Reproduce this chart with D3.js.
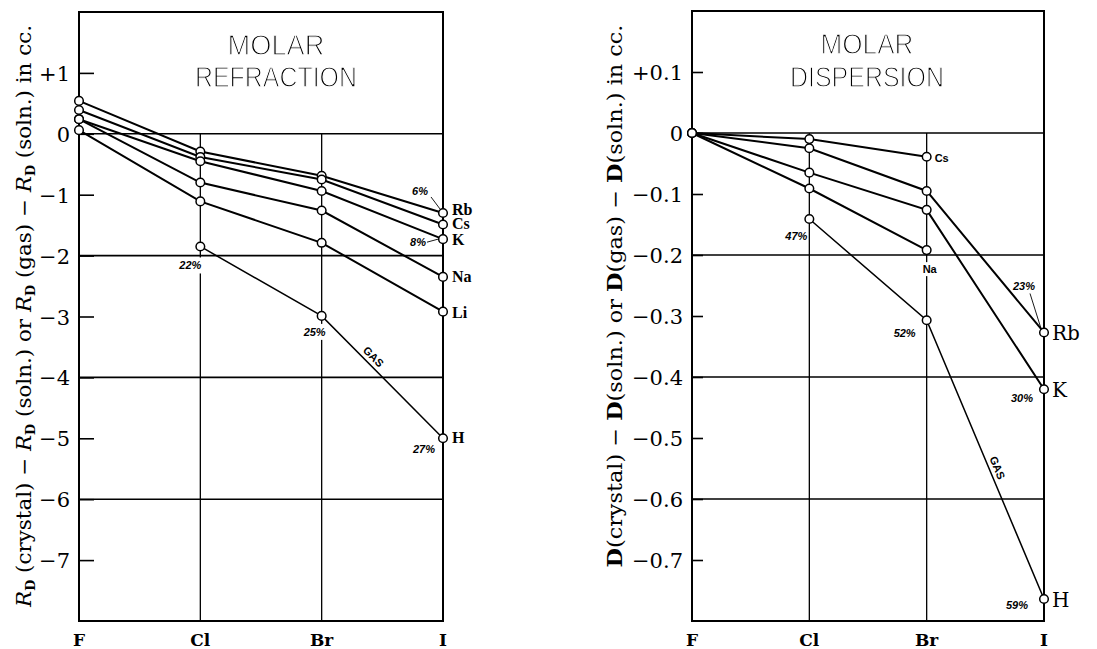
<!DOCTYPE html>
<html>
<head>
<meta charset="utf-8">
<script src="https://cdn.jsdelivr.net/npm/d3@7"></script>
<style>
  html, body { margin: 0; padding: 0; background: #fff; }
  svg { display: block; }
</style>
</head>
<body>
<svg id="chart" width="1097" height="649"></svg>
<script>
// ---------- DATA ----------
const categories = ["F", "Cl", "Br", "I"];

// Molar refraction (cc)
const refrSeriesNames = ["Rb", "Cs", "K", "Na", "Li", "H"];
const refrRb = [0.54, -0.29, -0.69, -1.30];
const refrCs = [0.39, -0.38, -0.75, -1.49];
const refrK  = [0.24, -0.45, -0.94, -1.73];
const refrNa = [0.24, -0.80, -1.26, -2.35];
const refrLi = [0.06, -1.11, -1.79, -2.92];
const refrH  = [null, -1.85, -2.99, -5.00];   // gas
const refrTicks = [1, 0, -1, -2, -3, -4, -5, -6, -7];
const refrTickLabels = ["+1", "0", "\u22121", "\u22122", "\u22123", "\u22124", "\u22125", "\u22126", "\u22127"];
const refrGrid = [0, -2, -4, -6];
const refrPctH = [null, "22%", "25%", "27%"];
const refrPctRb = [null, null, null, "6%"];
const refrPctK = [null, null, null, "8%"];

// Molar dispersion (cc)
const dispSeriesNames = ["Cs", "Rb", "K", "Na", "H"];
const dispCs = [0, -0.010, -0.039, null];
const dispRb = [0, -0.025, -0.095, -0.327];
const dispK  = [0, -0.065, -0.126, -0.420];
const dispNa = [0, -0.091, -0.192, null];
const dispH  = [null, -0.141, -0.307, -0.764]; // gas
const dispTicks = [0.1, 0, -0.1, -0.2, -0.3, -0.4, -0.5, -0.6, -0.7];
const dispTickLabels = ["+0.1", "0", "\u22120.1", "\u22120.2", "\u22120.3", "\u22120.4", "\u22120.5", "\u22120.6", "\u22120.7"];
const dispGrid = [0, -0.2, -0.4, -0.6];
const dispPctH = [null, "47%", "52%", "59%"];
const dispPctRb = [null, null, null, "23%"];
const dispPctK = [null, null, null, "30%"];

// ---------- DRAWING ----------
const svg = d3.select("#chart");
const SERIF = "'DejaVu Serif', 'Liberation Serif', serif";
const SERIF2 = "'Liberation Serif', 'DejaVu Serif', serif";
const NARROW = "'Liberation Sans Narrow', 'Liberation Sans', sans-serif";

// grayscale filter for the thin titles
const defs = svg.append("defs");
defs.append("filter").attr("id", "gray")
  .append("feColorMatrix").attr("type", "saturate").attr("values", 0);

function drawPanel(cfg) {
  const g = svg.append("g");
  const x = d3.scalePoint().domain(categories).range([cfg.x0, cfg.x1]);
  const y = d3.scaleLinear().domain(cfg.domain).range([cfg.y0, cfg.y1]);

  g.selectAll("line.hgrid").data(cfg.grid).join("line")
    .attr("x1", cfg.x0).attr("x2", cfg.x1)
    .attr("y1", d => y(d)).attr("y2", d => y(d))
    .attr("stroke", "#000").attr("stroke-width", 1.6);

  g.selectAll("line.vgrid").data(categories.slice(1, -1)).join("line")
    .attr("x1", d => x(d)).attr("x2", d => x(d))
    .attr("y1", y(0)).attr("y2", cfg.y1)
    .attr("stroke", "#000").attr("stroke-width", 1.3);

  g.append("rect")
    .attr("x", cfg.x0).attr("y", cfg.y0)
    .attr("width", cfg.x1 - cfg.x0).attr("height", cfg.y1 - cfg.y0)
    .attr("fill", "none").attr("stroke", "#000").attr("stroke-width", 2);

  const axis = d3.axisLeft(y).tickValues(cfg.ticks).tickSize(-cfg.tickLen)
    .tickFormat((d, i) => cfg.tickLabels[i]);
  const ag = g.append("g").attr("transform", `translate(${cfg.x0},0)`).call(axis);
  ag.select(".domain").remove();
  ag.selectAll(".tick line").attr("stroke", "#000").attr("stroke-width", 1.6);
  ag.selectAll(".tick text")
    .attr("x", -9).attr("dy", "0.36em")
    .style("font-family", SERIF).style("font-size", "21px").attr("fill", "#000");

  g.selectAll("text.xl").data(categories).join("text")
    .attr("x", d => x(d)).attr("y", 646)
    .attr("text-anchor", "middle")
    .style("font-family", SERIF).style("font-size", "17px").style("font-weight", "bold")
    .text(d => d);

  const tl = g.append("g").style("font-family", NARROW)
    .style("font-size", "29px").attr("filter", "url(#gray)")
    .attr("fill", "#000").attr("stroke", "#fff").attr("stroke-width", 1.3);
  cfg.title.forEach((t, i) => {
    tl.append("text").attr("x", cfg.titleX).attr("y", cfg.titleY[i])
      .attr("text-anchor", "middle")
      .attr("textLength", cfg.titleW[i]).attr("lengthAdjust", "spacingAndGlyphs")
      .text(t);
  });

  const labelLayer = g.append("g");

  cfg.series.forEach(s => {
    const pts = s.values.map((v, i) => ({c: categories[i], v}));
    g.append("path").datum(pts)
      .attr("d", d3.line().defined(d => d.v != null).x(d => x(d.c)).y(d => y(d.v)))
      .attr("fill", "none").attr("stroke", "#000")
      .attr("stroke-width", s.gas ? 1.5 : 2);
  });
  cfg.series.forEach(s => {
    const pts = s.values.map((v, i) => ({c: categories[i], v})).filter(d => d.v != null);
    g.selectAll(null).data(pts).join("circle")
      .attr("cx", d => x(d.c)).attr("cy", d => y(d.v)).attr("r", 4.3)
      .attr("fill", "#fff").attr("stroke", "#000").attr("stroke-width", 1.5);
  });

  return {g, x, y, labelLayer};
}

function whiteBehind(layer, textSel, pad) {
  const b = textSel.node().getBBox();
  layer.insert("rect", () => textSel.node())
    .attr("x", b.x - pad).attr("y", b.y - pad)
    .attr("width", b.width + 2 * pad).attr("height", b.height + 2 * pad)
    .attr("fill", "#fff");
}

function pctLabel(p, text, cx, cy, dx, dy, anchor, bg) {
  const t = p.labelLayer.append("text")
    .attr("x", cx + dx).attr("y", cy + dy)
    .attr("text-anchor", anchor || "end")
    .style("font-family", NARROW).style("font-size", "11px")
    .style("font-weight", "bold").style("font-style", "italic")
    .text(text);
  if (bg) whiteBehind(p.labelLayer, t, 2);
  return t;
}

function leader(p, x1, y1, x2, y2) {
  p.g.append("line").attr("x1", x1).attr("y1", y1).attr("x2", x2).attr("y2", y2)
    .attr("stroke", "#000").attr("stroke-width", 0.9);
}

function gasLabel(p, a, b, t, off) {
  const ang = Math.atan2(b[1] - a[1], b[0] - a[0]);
  const px = a[0] + (b[0] - a[0]) * t + Math.sin(ang) * off;
  const py = a[1] + (b[1] - a[1]) * t - Math.cos(ang) * off;
  p.g.append("text")
    .attr("transform", `translate(${px},${py}) rotate(${ang * 180 / Math.PI})`)
    .attr("text-anchor", "middle").attr("dy", "0.35em")
    .style("font-family", NARROW).style("font-size", "11px").style("font-weight", "bold")
    .text("GAS");
}

// ----- Left panel: Molar refraction -----
const refrValues = [refrRb, refrCs, refrK, refrNa, refrLi, refrH];
const L = drawPanel({
  x0: 79, x1: 443, y0: 12, y1: 621, domain: [2, -8], tickLen: 15,
  ticks: refrTicks, tickLabels: refrTickLabels, grid: refrGrid,
  title: ["MOLAR", "REFRACTION"], titleX: 276, titleY: [55, 87], titleW: [97, 162],
  series: refrValues.map((v, i) => ({name: refrSeriesNames[i], values: v, gas: refrSeriesNames[i] === "H"}))
});
const refrLabelDy = {Rb: 2, Cs: 4.5, K: 5.5, Na: 5.5, Li: 6, H: 5};
refrSeriesNames.forEach((n, i) => {
  const v = refrValues[i][3];
  L.g.append("text").attr("x", L.x("I") + 9).attr("y", L.y(v) + refrLabelDy[n])
    .style("font-family", SERIF2).style("font-size", "16px").style("font-weight", "bold")
    .text(n);
});
refrPctH.forEach((t, i) => {
  if (!t) return;
  const cx = L.x(categories[i]), cy = L.y(refrH[i]);
  const off = [null, [1, 23], [4, 20], [-8, 15]][i];
  pctLabel(L, t, cx, cy, off[0], off[1], "end", i < 3);
});
{
  const cx = L.x("I"), cy = L.y(refrRb[3]);
  pctLabel(L, refrPctRb[3], cx, cy, -15, -18, "end");
  leader(L, cx - 12, cy - 16, cx - 3, cy - 4);
  const ky = L.y(refrK[3]);
  pctLabel(L, refrPctK[3], cx, ky, -17, 7, "end");
  leader(L, cx - 16, ky + 3, cx - 5, ky);
}
gasLabel(L, [L.x("Br"), L.y(refrH[2])], [L.x("I"), L.y(refrH[3])], 0.38, 8);

// y-axis title left
{
  const t = svg.append("text")
    .attr("transform", "translate(31,316) rotate(-90)")
    .attr("text-anchor", "middle")
    .attr("textLength", 582).attr("lengthAdjust", "spacingAndGlyphs")
    .style("font-family", SERIF).style("font-size", "20px");
  const RD = () => {
    t.append("tspan").style("font-style", "italic").text("R");
    t.append("tspan").attr("dy", 4).style("font-size", "12px").style("font-weight", "bold").text("D");
    t.append("tspan").attr("dy", -4).text(" ");
  };
  RD(); t.append("tspan").text("(crystal)  \u2212  ");
  RD(); t.append("tspan").text("(soln.) or ");
  RD(); t.append("tspan").text("(gas)  \u2212  ");
  RD(); t.append("tspan").text("(soln.) in cc.");
}

// ----- Right panel: Molar dispersion -----
const dispValues = [dispCs, dispRb, dispK, dispNa, dispH];
const R = drawPanel({
  x0: 692, x1: 1044, y0: 11, y1: 621, domain: [0.2, -0.8], tickLen: 11,
  ticks: dispTicks, tickLabels: dispTickLabels, grid: dispGrid,
  title: ["MOLAR", "DISPERSION"], titleX: 867, titleY: [54, 87], titleW: [93, 154],
  series: dispValues.map((v, i) => ({name: dispSeriesNames[i], values: v, gas: dispSeriesNames[i] === "H"}))
});
dispSeriesNames.forEach((n, i) => {
  const v = dispValues[i][3];
  if (v == null) return;
  R.g.append("text").attr("x", R.x("I") + 8).attr("y", R.y(v) + 8)
    .style("font-family", SERIF).style("font-size", "20px")
    .text(n);
});
{
  const cx = R.x("Br");
  R.g.append("text").attr("x", cx + 8).attr("y", R.y(dispCs[2]) + 5)
    .style("font-family", NARROW).style("font-size", "11px").style("font-weight", "bold")
    .text("Cs");
  const nt = R.labelLayer.append("text").attr("x", cx + 3).attr("y", R.y(dispNa[2]) + 23)
    .attr("text-anchor", "middle")
    .style("font-family", NARROW).style("font-size", "11px").style("font-weight", "bold")
    .text("Na");
  whiteBehind(R.labelLayer, nt, 1);
}
dispPctH.forEach((t, i) => {
  if (!t) return;
  const cx = R.x(categories[i]), cy = R.y(dispH[i]);
  const off = [null, [-2, 21], [-11, 17], [-16, 10]][i];
  pctLabel(R, t, cx, cy, off[0], off[1], "end");
});
{
  const cx = R.x("I"), cy = R.y(dispRb[3]);
  pctLabel(R, dispPctRb[3], cx, cy, -9, -42, "end");
  leader(R, cx - 14, cy - 39, cx - 3, cy - 4);
  const ky = R.y(dispK[3]);
  pctLabel(R, dispPctK[3], cx, ky, -11, 13, "end");
}
gasLabel(R, [R.x("Br"), R.y(dispH[2])], [R.x("I"), R.y(dispH[3])], 0.54, 8);

// y-axis title right
{
  const t = svg.append("text")
    .attr("transform", "translate(622,296) rotate(-90)")
    .attr("text-anchor", "middle")
    .attr("textLength", 543).attr("lengthAdjust", "spacingAndGlyphs")
    .style("font-family", SERIF).style("font-size", "20px");
  const D = () => t.append("tspan").style("font-weight", "bold").text("D");
  D(); t.append("tspan").text("(crystal)  \u2212  ");
  D(); t.append("tspan").text("(soln.) or ");
  D(); t.append("tspan").text("(gas)  \u2212  ");
  D(); t.append("tspan").text("(soln.) in cc.");
}
</script>
</body>
</html>
